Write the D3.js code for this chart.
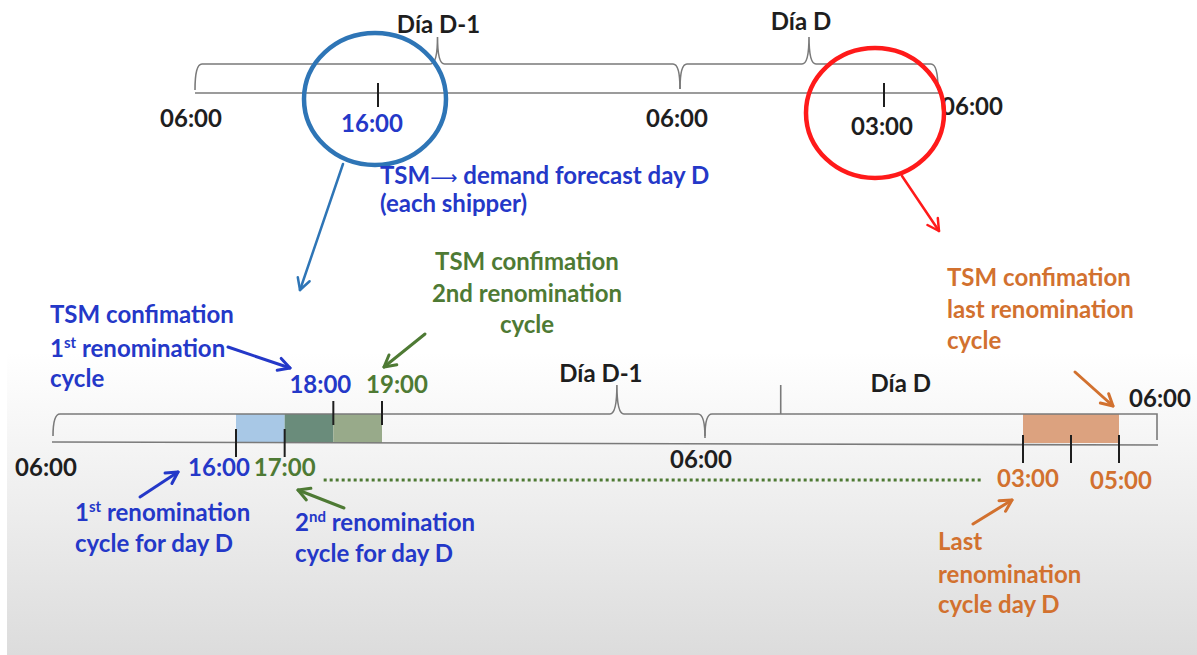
<!DOCTYPE html>
<html><head><meta charset="utf-8">
<script src="https://cdn.jsdelivr.net/npm/d3@7"></script>
<style>
body{margin:0;background:#fff;}
svg{display:block;}
text{font-family:Lato,"Open Sans",sans-serif;font-weight:700;}
</style>
</head><body>
<svg id="chart" width="1197" height="655"></svg>
<script>
// ---------------- DATA ----------------
// Hours counted from 06:00 of day D-1 (0) to 06:00 of day D+1 (48)
const topAnchorHours = [0, 10, 24, 45, 48];
const topLabelHours = [0, 10, 24, 45, 48];
const topLabels = ["06:00", "16:00", "06:00", "03:00", "06:00"];
const topTickHours = [10, 45];
const topDayNames = ["Día D-1", "Día D"];
const topDayStarts = [0, 24];
const topDayEnds = [24, 48];

const bottomAnchorHours = [0, 10, 13, 24, 45, 47, 48];
const bottomLabelHours = [0, 10, 11, 12, 13, 24, 45, 47, 48];
const bottomLabels = ["06:00", "16:00", "17:00", "18:00", "19:00", "06:00", "03:00", "05:00", "06:00"];
const bottomTicksBelow = [10, 11, 45, 46, 47];
const bottomTicksAbove = [12, 13];
const bandStarts = [10, 11, 12, 45];
const bandEnds = [11, 12, 13, 47];
const bottomDayNames = ["Día D-1", "Día D"];
const bottomDayMarks = [21, 29];
const dottedFrom = 11, dottedTo = 45;

const noteTopBlue = ["TSM|⟶| demand forecast day D", "(each shipper)"];
const noteTopGreen = ["TSM confimation", "2nd renomination", "cycle"];
const noteLeftBlue = ["TSM confimation", "1^st renomination", "cycle"];
const noteRightOrange = ["TSM confimation", "last renomination", "cycle"];
const noteBottomBlue1 = ["1^st renomination", "cycle for day D"];
const noteBottomBlue2 = ["2^nd renomination", "cycle for day D"];
const noteBottomOrange = ["Last", "renomination", "cycle day D"];

// ---------------- STYLE / LAYOUT ----------------
const BLACK = "#1e1e1e", BLUE = "#2438c8", GREEN = "#4e7a34", ORANGE = "#d2712f";
const CIRC_BLUE = "#2e75b6", RED = "#ff1a1a", LINE = "#7a7a7a";
const bandColors = ["#a8c8e6", "#6a8c7b", "#98aa8a", "#dca27f"];
const FS = 24;

const svg = d3.select("#chart");
const defs = svg.append("defs");
const grad = defs.append("linearGradient").attr("id", "bg").attr("x1", 0).attr("y1", 0).attr("x2", 0).attr("y2", 1);
grad.append("stop").attr("offset", "0").attr("stop-color", "#ffffff");
grad.append("stop").attr("offset", "0.35").attr("stop-color", "#f3f3f3");
grad.append("stop").attr("offset", "1").attr("stop-color", "#dcdcdc");
svg.append("rect").attr("x", 7).attr("y", 352).attr("width", 1190).attr("height", 303).attr("fill", "url(#bg)");

const xTop = d3.scaleLinear().domain(topAnchorHours).range([195, 378, 680, 884, 938]);
const xBot = d3.scaleLinear().domain(bottomAnchorHours).range([55, 236, 382, 705, 1023, 1119, 1157]);

function bracePath(x1, x2, y0, endY1, endY2, peakX, peakY, r) {
  const p = d3.path();
  p.moveTo(x1, endY1);
  p.quadraticCurveTo(x1, y0, x1 + r, y0);
  if (peakX != null) {
    p.lineTo(peakX - r, y0);
    p.quadraticCurveTo(peakX, y0, peakX, peakY);
    p.quadraticCurveTo(peakX, y0, peakX + r, y0);
  }
  p.lineTo(x2 - r, y0);
  p.quadraticCurveTo(x2, y0, x2, endY2);
  return p.toString();
}

function arrow(x1, y1, x2, y2, color, w) {
  const g = svg.append("g").attr("stroke", color).attr("stroke-width", w).attr("fill", "none").attr("stroke-linecap", "round").attr("stroke-linejoin", "round");
  g.append("line").attr("x1", x1).attr("y1", y1).attr("x2", x2).attr("y2", y2);
  const a = Math.atan2(y2 - y1, x2 - x1), L = 13, s = 0.5;
  g.append("path").attr("d",
    `M${x2 - L * Math.cos(a - s)},${y2 - L * Math.sin(a - s)} L${x2},${y2} L${x2 - L * Math.cos(a + s)},${y2 - L * Math.sin(a + s)}`);
}

function note(lines, x, baselines, color, anchor) {
  lines.forEach((ln, i) => {
    const t = svg.append("text").attr("x", x).attr("y", baselines[i]).attr("fill", color)
      .attr("font-size", FS).attr("text-anchor", anchor || "start");
    if (ln.includes("^")) {
      const [a, rest] = ln.split("^");
      const sup = rest.match(/^[a-z]+/)[0];
      t.append("tspan").text(a);
      t.append("tspan").attr("font-size", 15).attr("dy", -9).text(sup);
      t.append("tspan").attr("dy", 9).text(rest.slice(sup.length));
    } else if (ln.includes("|")) {
      const parts = ln.split("|");
      t.append("tspan").text(parts[0]);
      t.append("tspan").attr("font-weight", 400).attr("font-family", "DejaVu Sans").attr("font-size", 19).text(parts[1]);
      t.append("tspan").text(parts[2]);
    } else t.text(ln);
  });
}

// ---------------- TOP TIMELINE ----------------
const topY = 93, topBraceY = 64, topPeakY = 37;
svg.append("line").attr("x1", xTop(0)).attr("x2", xTop(48) + 2).attr("y1", topY).attr("y2", topY)
  .attr("stroke", LINE).attr("stroke-width", 1.6);
topDayStarts.forEach((s, i) => {
  const x1 = xTop(s), x2 = xTop(topDayEnds[i]);
  svg.append("path").attr("d", bracePath(x1, x2, topBraceY, i === 0 ? 90 : 89, i === 0 ? 89 : 90, (x1 + x2) / 2, topPeakY, 7))
    .attr("fill", "none").attr("stroke", LINE).attr("stroke-width", 1.6);
  svg.append("text").attr("x", (x1 + x2) / 2 + (i === 0 ? 1 : -8)).attr("y", i === 0 ? 33 : 30)
    .attr("text-anchor", "middle").attr("font-size", FS).attr("fill", BLACK).text(topDayNames[i]);
});
svg.selectAll(".ttick").data(topTickHours).join("line")
  .attr("x1", d => xTop(d)).attr("x2", d => xTop(d)).attr("y1", 83).attr("y2", 107)
  .attr("stroke", BLACK).attr("stroke-width", 2);
const topDx = [-4, -6, -3, -2, 34], topBase = [127, 132, 127, 135, 115];
const topCol = [BLACK, BLUE, BLACK, BLACK, BLACK];
svg.selectAll(".tlab").data(topLabelHours).join("text")
  .attr("x", (d, i) => xTop(d) + topDx[i]).attr("y", (d, i) => topBase[i])
  .attr("text-anchor", "middle").attr("font-size", FS).attr("fill", (d, i) => topCol[i])
  .text((d, i) => topLabels[i]);

svg.append("ellipse").attr("cx", xTop(10) - 3).attr("cy", 99).attr("rx", 71).attr("ry", 66)
  .attr("fill", "none").attr("stroke", CIRC_BLUE).attr("stroke-width", 4.5);
svg.append("ellipse").attr("cx", xTop(45) - 9).attr("cy", 113).attr("rx", 69).attr("ry", 65)
  .attr("fill", "none").attr("stroke", RED).attr("stroke-width", 4.5);
arrow(343, 164, 300, 290, CIRC_BLUE, 2.5);
arrow(902, 176, 939, 231, RED, 2.5);

// ---------------- BOTTOM TIMELINE ----------------
const botY = 443, botBraceY = 414;
bandStarts.forEach((s, i) => {
  svg.append("rect").attr("x", xBot(s)).attr("y", botBraceY).attr("width", xBot(bandEnds[i]) - xBot(s))
    .attr("height", botY - botBraceY).attr("fill", bandColors[i]);
});
svg.append("line").attr("x1", xBot(0) - 3).attr("x2", xBot(48) + 1).attr("y1", botY - 1).attr("y2", botY + 2)
  .attr("stroke", LINE).attr("stroke-width", 1.6);
svg.append("path").attr("d", bracePath(xBot(0) - 2, xBot(24), botBraceY, 436, 438, xBot(bottomDayMarks[0]), 385, 7))
  .attr("fill", "none").attr("stroke", LINE).attr("stroke-width", 1.6);
svg.append("path").attr("d", (() => {
  const p = d3.path(); const x1 = xBot(24), x2 = xBot(48);
  p.moveTo(x1, 436); p.quadraticCurveTo(x1, botBraceY, x1 + 7, botBraceY);
  p.lineTo(x2, botBraceY); p.lineTo(x2, 440); return p.toString();
})()).attr("fill", "none").attr("stroke", LINE).attr("stroke-width", 1.6);
svg.append("line").attr("x1", xBot(bottomDayMarks[1])).attr("x2", xBot(bottomDayMarks[1]))
  .attr("y1", 385).attr("y2", botBraceY).attr("stroke", LINE).attr("stroke-width", 1.6);
svg.append("text").attr("x", xBot(bottomDayMarks[0]) - 16).attr("y", 382).attr("text-anchor", "middle")
  .attr("font-size", FS).attr("fill", BLACK).text(bottomDayNames[0]);
svg.append("text").attr("x", xBot(bottomDayMarks[1]) + 120).attr("y", 392).attr("text-anchor", "middle")
  .attr("font-size", FS).attr("fill", BLACK).text(bottomDayNames[1]);

svg.selectAll(".bt1").data(bottomTicksBelow).join("line")
  .attr("x1", d => xBot(d)).attr("x2", d => xBot(d)).attr("y1", d => d < 24 ? 429 : 435).attr("y2", d => d < 24 ? 457 : 463)
  .attr("stroke", BLACK).attr("stroke-width", 2);
svg.selectAll(".bt2").data(bottomTicksAbove).join("line")
  .attr("x1", d => xBot(d)).attr("x2", d => xBot(d)).attr("y1", 401).attr("y2", 425)
  .attr("stroke", BLACK).attr("stroke-width", 2);

const botDx = [-9, -17, 0, -13, 15, -4, 5, 2, 3];
const botBase = [476, 476, 476, 393, 393, 468, 487, 489, 407];
const botCol = [BLACK, BLUE, GREEN, BLUE, GREEN, BLACK, ORANGE, ORANGE, BLACK];
svg.selectAll(".blab").data(bottomLabelHours).join("text")
  .attr("x", (d, i) => xBot(d) + botDx[i]).attr("y", (d, i) => botBase[i])
  .attr("text-anchor", "middle").attr("font-size", FS).attr("fill", (d, i) => botCol[i])
  .text((d, i) => bottomLabels[i]);

svg.append("line").attr("x1", xBot(dottedFrom) + 39).attr("x2", xBot(dottedTo) - 40).attr("y1", 480).attr("y2", 480)
  .attr("stroke", GREEN).attr("stroke-width", 3).attr("stroke-dasharray", "3,3");

// ---------------- ANNOTATIONS ----------------
note(noteTopBlue, 380, [184, 212], BLUE);
note(noteTopGreen, 527, [270, 302, 333], GREEN, "middle");
note(noteLeftBlue, 50, [323, 357, 387], BLUE);
note(noteRightOrange, 947, [286, 318, 349], ORANGE);
note(noteBottomBlue1, 75, [521, 552], BLUE);
note(noteBottomBlue2, 295, [531, 562], BLUE);
note(noteBottomOrange, 938, [550, 583, 613], ORANGE);

arrow(228, 347, 290, 368, BLUE, 3);
arrow(425, 334, 384, 367, GREEN, 3);
arrow(1075, 372, 1113, 406, ORANGE, 3);
arrow(140, 497, 178, 472, BLUE, 3);
arrow(344, 508, 298, 490, GREEN, 3);
arrow(973, 524, 1012, 500, ORANGE, 3);
</script>
</body></html>
